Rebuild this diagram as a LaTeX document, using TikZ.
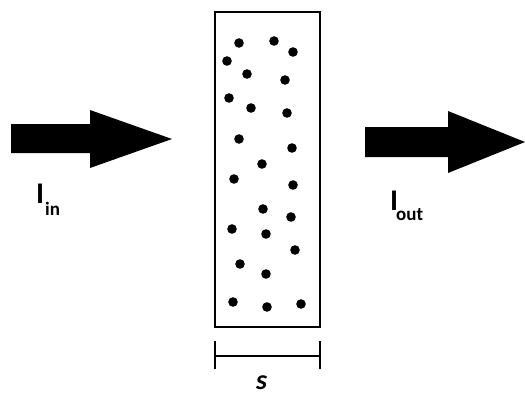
\documentclass[tikz,border=0pt]{standalone}
\usepackage{fontspec}
\setmainfont{Carlito}
\begin{document}
\begin{tikzpicture}[x=1pt,y=-1pt,
  dot/.style={fill=black,draw=none},
  bigarrow/.style={fill=black,draw=none},
  frame/.style={draw=black,line width=1.3pt},
  lbl/.style={inner sep=0pt,anchor=base west,text=black}]
\useasboundingbox (0,0) rectangle (525,397);
% arrows
\fill[bigarrow] (11,124) -- (90,124) -- (90,110) -- (172,139) -- (90,168) -- (90,153) -- (11,153) -- cycle;
\fill[bigarrow] (365,127) -- (448,127) -- (448,111) -- (525,142) -- (448,173) -- (448,157) -- (365,157) -- cycle;
% box
\draw[frame] (215,12) rectangle (320,327);
% dots
\foreach \p in {(239,43),(274,41),(293,52),(227,61),(247,74),(285,80),(229,98),(251,108),(287,113),(239,139),(292,148),(262,164),(234,179),(293,185),(263,209),(291,217),(232,229),(266,234),(295,250),(240,264),(266,274),(233,302),(267,307),(301,304)}
  \fill[dot] \p circle (4.8);
% scale bar
\coordinate (sl) at (215,356);
\coordinate (sr) at (320,356);
\draw[frame] (sl) -- (sr);
\draw[frame] ([yshift=-13]sl) -- ([yshift=15]sl);
\draw[frame] ([yshift=-13]sr) -- ([yshift=15]sr);
% labels
\node[lbl,font=\fontsize{30}{36}\selectfont\bfseries] (Iin) at (36,203) {I};
\node[lbl,font=\fontsize{19}{22}\selectfont\bfseries] (in) at (45,215) {in};
\node[lbl,font=\fontsize{30}{36}\selectfont\bfseries] (Iout) at (390,210) {I};
\node[lbl,font=\fontsize{19}{22}\selectfont\bfseries] (out) at (396,220) {out};
\node[lbl,font=\fontsize{28}{34}\selectfont\bfseries\itshape] (s) at (256,389) {s};
\end{tikzpicture}
\end{document}
